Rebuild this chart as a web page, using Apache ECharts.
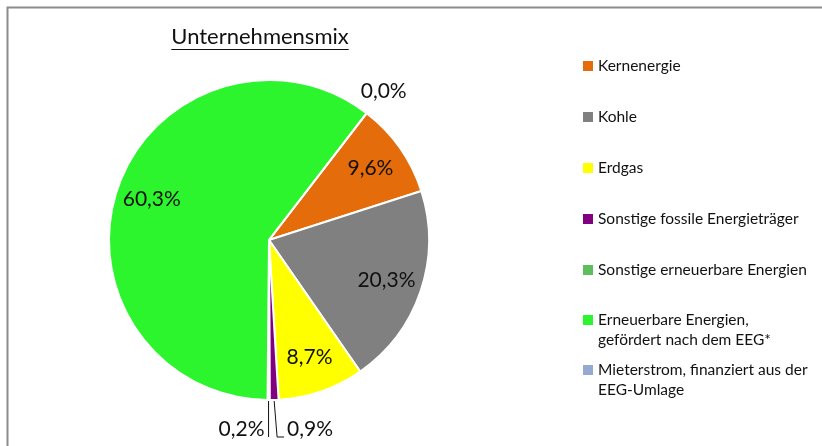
<!DOCTYPE html>
<html>
<head>
<meta charset="utf-8">
<script src="https://cdn.jsdelivr.net/npm/echarts@6/dist/echarts.min.js"></script>
<style>
    html, body { margin: 0; padding: 0; background: #fff; }
    #chart { width: 822px; height: 446px; }
</style>
</head>
<body>
<div id="chart"></div>
<script>
// Unternehmensmix – Anteile in Prozent
const categories = [
    'Kernenergie',
    'Kohle',
    'Erdgas',
    'Sonstige fossile Energieträger',
    'Sonstige erneuerbare Energien',
    'Erneuerbare Energien,\ngefördert nach dem EEG*',
    'Mieterstrom, finanziert aus der\nEEG-Umlage'
]
const shares = [9.6, 20.3, 8.7, 0.9, 0.2, 60.3, 0.0]
const colors = ['#e46c0a', '#808080', '#ffff00', '#800080', '#5cbf5c', '#2df52d', '#95a9d1']

const font = 'Lato'
const cx = 269, cy = 240, R = 160
const firstAngle = 37.6   // Grad im Uhrzeigersinn ab 12 Uhr

// Punkt auf dem Kreis fuer einen kumulierten Anteil (0..100)
function pointAt(cum, r) {
    const a = (firstAngle + cum / 100 * 360) * Math.PI / 180
    return [cx + Math.sin(a) * r, cy - Math.cos(a) * r]
}
function midOf(i) {
    let before = 0
    for (let k = 0; k < i; k++) before += shares[k]
    return before + shares[i] / 2
}

function fmt(v) {
    return v.toFixed(1).replace('.', ',') + '%'
}

// Breite des Titels fuer die Unterstreichung
const ctx = document.createElement('canvas').getContext('2d')
ctx.font = '22px ' + font
const titleW = ctx.measureText('Unternehmensmix').width
const titleX = 260, titleY = 48

const legendBase = {
    orient: 'vertical',
    left: 583,
    padding: 0,
    itemWidth: 10,
    itemHeight: 10,
    icon: 'rect',
    itemStyle: { borderWidth: 0 }
}
// zweizeilige Eintraege: Leerzeile davor, damit das Kaestchen an der ersten Zeile steht
const twoLine = name => ' \n' + name

let charts = echarts.init(document.getElementById('chart'))
charts.setOption({
    animation: false,
    color: colors,
    graphic: [
        {
            type: 'rect',
            shape: { x: 7.5, y: 7.5, width: 1000, height: 1000 },
            style: { fill: 'none', stroke: '#8c8c8c', lineWidth: 2 },
            silent: true
        },
        {
            type: 'text',
            x: titleX,
            y: titleY,
            style: {
                text: 'Unternehmensmix',
                font: '22px ' + font,
                fill: '#111',
                textAlign: 'center',
                textVerticalAlign: 'bottom'
            }
        },
        {
            type: 'line',
            shape: { x1: titleX - titleW / 2, y1: titleY + 1.5, x2: titleX + titleW / 2, y2: titleY + 1.5 },
            style: { stroke: '#111', lineWidth: 1.2 }
        }
    ],
    legend: [
        Object.assign({}, legendBase, {
            data: categories.slice(0, 5),
            top: 57,
            itemGap: 33,
            textStyle: { fontFamily: font, fontSize: 15.5, color: '#111', lineHeight: 18 }
        }),
        Object.assign({}, legendBase, {
            data: [categories[5]],
            top: 290,
            formatter: twoLine,
            textStyle: { fontFamily: font, fontSize: 15.5, color: '#111', lineHeight: 20 }
        }),
        Object.assign({}, legendBase, {
            data: [categories[6]],
            top: 340,
            formatter: twoLine,
            textStyle: { fontFamily: font, fontSize: 15.5, color: '#111', lineHeight: 20 }
        })
    ],
    series: [
        {
            type: 'pie',
            center: [cx, cy],
            radius: R,
            startAngle: 90 - firstAngle,
            clockwise: true,
            avoidLabelOverlap: false,
            itemStyle: { borderColor: '#fff', borderWidth: 2 },
            label: {
                show: true,
                fontFamily: font,
                fontSize: 21,
                color: '#111',
                formatter: p => fmt(p.value)
            },
            labelLine: { show: true, lineStyle: { color: '#111', width: 1 } },
            emphasis: { disabled: true },
            data: categories.map((name, i) => {
                const small = shares[i] < 2
                return {
                    name: name,
                    value: shares[i],
                    label: { position: small ? 'outside' : 'inside' },
                    labelLine: { show: small && shares[i] > 0 }
                }
            }),
            labelLayout: function (params) {
                const i = params.dataIndex
                const m = midOf(i)
                if (shares[i] >= 2) {
                    const p = pointAt(m, 124)
                    return { x: p[0], y: p[1], align: 'center', verticalAlign: 'middle' }
                }
                if (shares[i] === 0) {
                    const p = pointAt(m, 188)
                    return { x: p[0], y: p[1], align: 'center', verticalAlign: 'middle' }
                }
                const p0 = pointAt(m, R)
                const yb = 437
                if (i === 4) {
                    return {
                        x: p0[0] - 4, y: yb - 8, align: 'right', verticalAlign: 'middle',
                        labelLinePoints: [p0, [p0[0], yb], [p0[0], yb]]
                    }
                }
                return {
                    x: p0[0] + 13, y: yb - 8, align: 'left', verticalAlign: 'middle',
                    labelLinePoints: [p0, [p0[0] + 3, yb], [p0[0] + 10, yb]]
                }
            }
        }
    ]
})
window.addEventListener('resize', () => {
    charts.resize()
})
</script>
</body>
</html>
